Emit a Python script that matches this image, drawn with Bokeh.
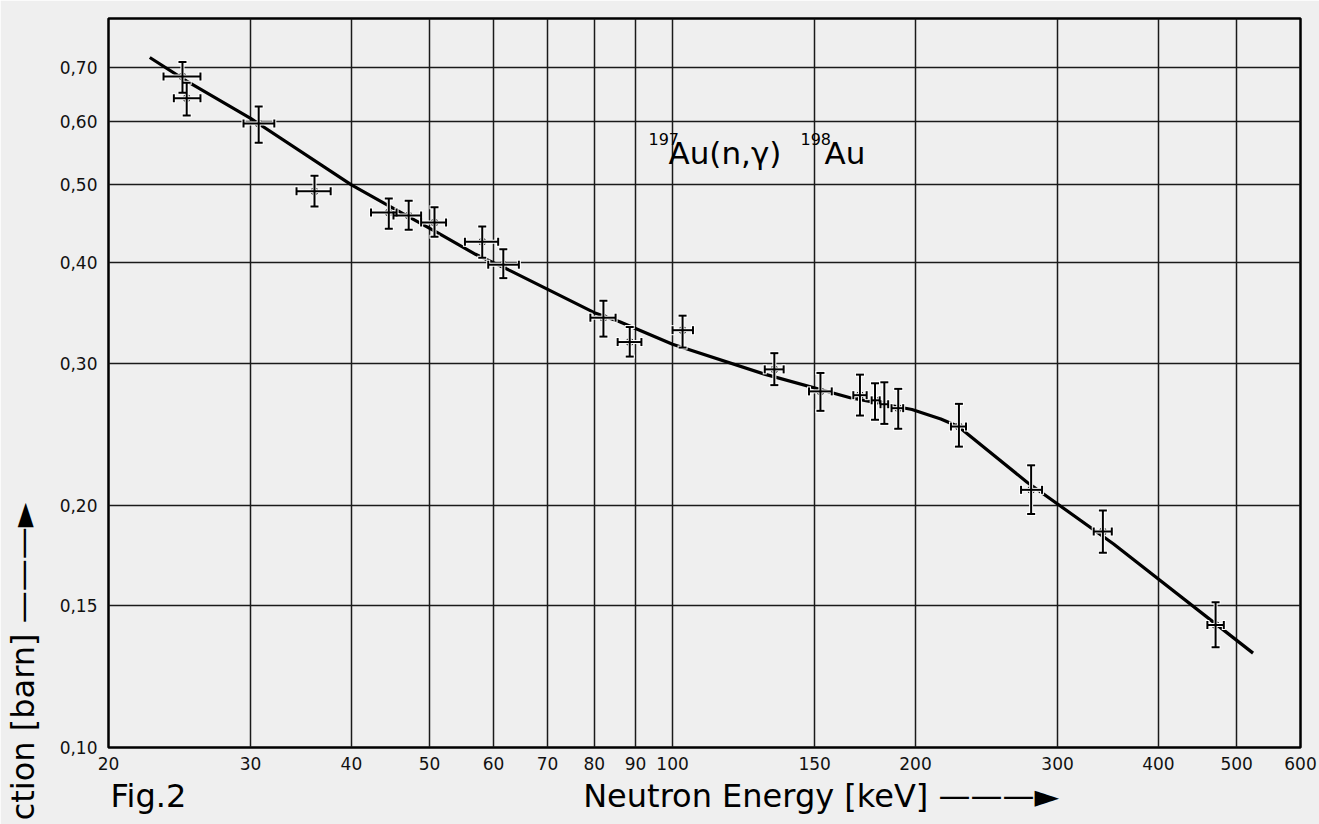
import math
from bokeh.plotting import figure
from bokeh.models import (Range1d, FixedTicker, CustomJSTickFormatter, Whisker, TeeHead,
                          Label, ColumnDataSource, LinearAxis, LinearScale)
from bokeh.embed import file_html
from bokeh.resources import INLINE

# ---- data ----
energy = [24.7, 25.0, 30.7, 36.0, 44.5, 47.1, 50.7, 58.1, 61.7, 82.1, 88.5, 102.9,
          133.7, 152.5, 170.7, 178.2, 183.0, 190.4, 226.4, 278.2, 341.4, 470.9]
energy_lo = [23.4, 24.1, 29.4, 34.2, 42.3, 45.1, 48.8, 55.3, 59.1, 79.1, 85.5, 100.0,
             130.1, 147.6, 167.5, 176.5, 181.0, 186.8, 221.3, 270.3, 332.6, 460.0]
energy_hi = [26.0, 26.0, 32.1, 37.7, 45.5, 48.8, 52.4, 60.8, 64.5, 85.0, 91.5, 106.0,
             137.3, 157.5, 174.0, 180.6, 185.0, 193.1, 231.0, 287.0, 350.2, 482.1]
sigma = [0.682, 0.641, 0.596, 0.491, 0.462, 0.458, 0.449, 0.425, 0.398, 0.342, 0.319, 0.330,
         0.295, 0.277, 0.274, 0.270, 0.267, 0.264, 0.2505, 0.209, 0.1855, 0.142]
sigma_lo = [0.651, 0.610, 0.564, 0.470, 0.441, 0.440, 0.431, 0.406, 0.383, 0.324, 0.306, 0.314,
            0.282, 0.262, 0.2585, 0.2554, 0.2524, 0.2489, 0.2365, 0.1951, 0.1746, 0.1332]
sigma_hi = [0.711, 0.670, 0.626, 0.5135, 0.481, 0.478, 0.469, 0.444, 0.416, 0.359, 0.333, 0.344,
            0.309, 0.292, 0.2906, 0.2835, 0.2843, 0.2790, 0.2673, 0.2242, 0.197, 0.1515]

curve_energy = [22.5, 25, 30, 40, 44, 51, 57, 63, 80, 86, 100, 130, 166, 198, 215, 226, 275, 352, 524]
curve_sigma = [0.72, 0.673, 0.605, 0.50, 0.474, 0.437, 0.410, 0.391, 0.347, 0.338, 0.317, 0.291,
               0.272, 0.263, 0.256, 0.2505, 0.2136, 0.179, 0.131]

x_ticks = [20, 30, 40, 50, 60, 70, 80, 90, 100, 150, 200, 300, 400, 500, 600]
y_ticks = [0.10, 0.15, 0.20, 0.30, 0.40, 0.50, 0.60, 0.70]

x_title = "Neutron Energy [keV] ———►"
y_title = "ction [barn] ———►"
caption = "Fig.2"

BG = "#efefef"
FONT = "DejaVu Sans"

p = figure(width=1319, height=824, x_axis_type="log", y_axis_type="log",
           x_range=Range1d(20, 600), y_range=Range1d(0.10, 0.805),
           output_backend="svg", toolbar_location=None,
           min_border_left=104, min_border_right=19, min_border_top=18, min_border_bottom=77)
p.background_fill_color = BG
p.border_fill_color = BG
p.outline_line_color = "black"
p.outline_line_width = 2.5

p.xaxis.ticker = FixedTicker(ticks=x_ticks, minor_ticks=[])
p.yaxis.ticker = FixedTicker(ticks=y_ticks, minor_ticks=[])
p.xaxis.formatter = CustomJSTickFormatter(code="return tick.toFixed(0)")
p.yaxis.formatter = CustomJSTickFormatter(code="return tick.toFixed(2).replace('.', ',')")

def style_axis(ax, size):
    ax.axis_line_color = None
    ax.major_tick_line_color = None
    ax.minor_tick_line_color = None
    ax.major_tick_out = 0
    ax.major_tick_in = 0
    ax.major_label_text_font = FONT
    ax.major_label_text_font_size = size
    ax.major_label_text_color = "#111111"

style_axis(p.xaxis[0], "17px")
style_axis(p.yaxis[0], "17px")
p.xaxis.major_label_standoff = 9
p.yaxis.major_label_standoff = 11

# caption / axis titles as tick labels of helper axes placed in the side panels
p.extra_x_ranges = {"lab": Range1d(0, 1196)}
p.extra_x_scales = {"lab": LinearScale()}
p.extra_y_ranges = {"lab": Range1d(0, 729)}
p.extra_y_scales = {"lab": LinearScale()}

xa = LinearAxis(x_range_name="lab", ticker=FixedTicker(ticks=[40, 715], minor_ticks=[]),
                major_label_overrides={40: caption, 715: x_title})
style_axis(xa, "32px")
xa.major_label_standoff = 4
xa.major_label_text_color = "black"
p.add_layout(xa, "below")

ya = LinearAxis(y_range_name="lab", ticker=FixedTicker(ticks=[86], minor_ticks=[]),
                major_label_overrides={86: y_title}, major_label_orientation="parallel")
style_axis(ya, "32px")
ya.major_label_standoff = 15
ya.major_label_text_color = "black"
p.add_layout(ya, "left")

p.grid.grid_line_color = "#1a1a1a"
p.grid.grid_line_width = 1.5

# fitted curve
p.line(curve_energy, curve_sigma, line_color="black", line_width=3.2)

src = ColumnDataSource(dict(energy=energy, energy_lo=energy_lo, energy_hi=energy_hi,
                            sigma=sigma, sigma_lo=sigma_lo, sigma_hi=sigma_hi))

def whiskers(color, lw, head_size):
    for dim, base, up, lo in (("height", "energy", "sigma_hi", "sigma_lo"),
                              ("width", "sigma", "energy_hi", "energy_lo")):
        w = Whisker(source=src, base=base, upper=up, lower=lo,
                    dimension=dim, line_color=color, line_width=lw, level="overlay",
                    upper_head=TeeHead(size=head_size, line_color=color, line_width=lw),
                    lower_head=TeeHead(size=head_size, line_color=color, line_width=lw))
        p.add_layout(w)

whiskers("#ffffff", 4, 10)
whiskers("black", 2, 8)
p.scatter("energy", "sigma", source=src, size=7, color="black", level="overlay")

# reaction label
def lab(x, y, text, size):
    p.add_layout(Label(x=x, y=y, x_units="screen", y_units="screen", text=text,
                       text_font=FONT, text_font_size=size, text_color="black",
                       text_baseline="alphabetic"))

lab(540, 609, "197", "16px")
lab(560, 595, "Au(n,γ)", "31px")
lab(692, 609, "198", "16px")
lab(716, 595, "Au", "31px")

html = file_html(p, INLINE)
html = html.replace("<body>", '<body style="background:#efefef">', 1)
open("out.html", "w").write(html)
